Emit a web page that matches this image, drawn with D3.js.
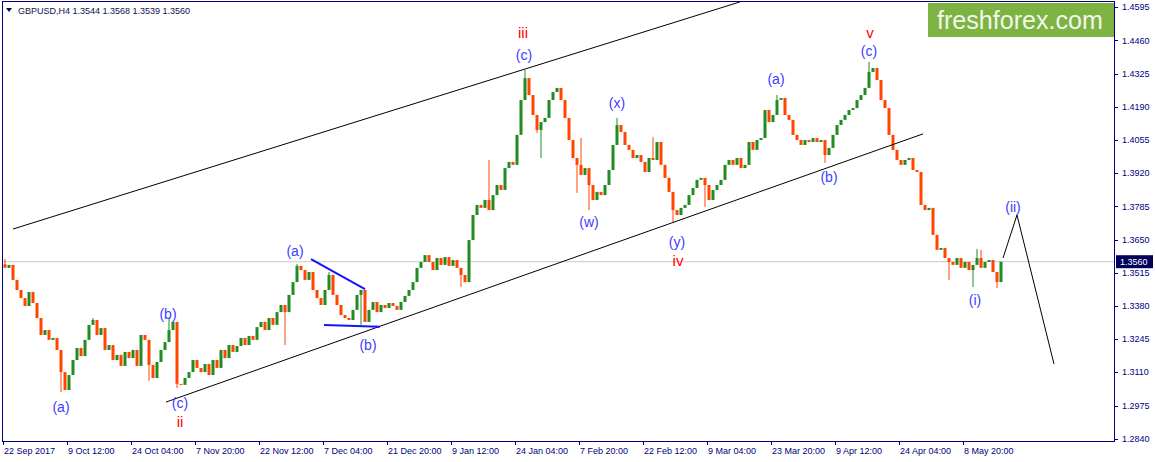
<html>
<head>
  <title>GBPUSD H4</title>
  <script src="https://d3js.org/d3.v7.min.js"></script>
  <style>
    body { margin: 0; background: #fff; }
    text { font-family: "Liberation Sans", Arial, sans-serif; }
  </style>
</head>
<body>
<svg id="chart" width="1155" height="462"></svg>
<script>
  // closes, one every ~4 px (open = previous close)
  const closes = [
    1.3535, 1.3547, 1.3486, 1.3445, 1.3412, 1.3380, 1.3437, 1.3392, 1.3331, 1.3262,
    1.3282, 1.3242, 1.3250, 1.3201, 1.3111, 1.3038, 1.3099, 1.3160, 1.3209, 1.3176,
    1.3242, 1.3303, 1.3323, 1.3262, 1.3290, 1.3201, 1.3221, 1.3160, 1.3181, 1.3136,
    1.3193, 1.3168, 1.3201, 1.3136, 1.3262, 1.3242, 1.3140, 1.3087, 1.3152, 1.3201,
    1.3233, 1.3282, 1.3315, 1.3063, 1.3059, 1.3087, 1.3111, 1.3160, 1.3128, 1.3111,
    1.3144, 1.3099, 1.3160, 1.3128, 1.3201, 1.3168, 1.3221, 1.3193, 1.3217, 1.3250,
    1.3221, 1.3258, 1.3242, 1.3294, 1.3315, 1.3282, 1.3331, 1.3303, 1.3355, 1.3384,
    1.3355, 1.3425, 1.3477, 1.3543, 1.3526, 1.3486, 1.3518, 1.3445, 1.3412, 1.3384,
    1.3445, 1.3506, 1.3425, 1.3384, 1.3343, 1.3331, 1.3323, 1.3364, 1.3425, 1.3445,
    1.3315, 1.3364, 1.3396, 1.3355, 1.3384, 1.3372, 1.3392, 1.3380, 1.3364, 1.3396,
    1.3421, 1.3445, 1.3477, 1.3535, 1.3559, 1.3587, 1.3559, 1.3526, 1.3575, 1.3547,
    1.3579, 1.3543, 1.3567, 1.3535, 1.3506, 1.3477, 1.3648, 1.3750, 1.3791, 1.3779,
    1.3811, 1.3770, 1.3831, 1.3872, 1.3852, 1.3941, 1.3966, 1.3954, 1.4076, 1.4218,
    1.4307, 1.4238, 1.4157, 1.4096, 1.4128, 1.4145, 1.4218, 1.4250, 1.4267, 1.4218,
    1.4145, 1.4055, 1.3982, 1.3954, 1.3913, 1.3941, 1.3872, 1.3811, 1.3844, 1.3831,
    1.3872, 1.3933, 1.4035, 1.4116, 1.4088, 1.4035, 1.4015, 1.3982, 1.3994, 1.3966,
    1.3925, 1.3982, 1.3974, 1.4047, 1.3954, 1.3901, 1.3844, 1.3770, 1.3750, 1.3779,
    1.3791, 1.3831, 1.3860, 1.3893, 1.3901, 1.3872, 1.3811, 1.3852, 1.3872, 1.3893,
    1.3954, 1.3974, 1.3954, 1.3982, 1.3941, 1.3954, 1.4047, 1.4015, 1.4055, 1.4063,
    1.4177, 1.4128, 1.4157, 1.4218, 1.4226, 1.4157, 1.4137, 1.4076, 1.4055, 1.4035,
    1.4055, 1.4047, 1.4063, 1.4047, 1.4055, 1.3994, 1.4023, 1.4076, 1.4116, 1.4137,
    1.4157, 1.4177, 1.4185, 1.4218, 1.4238, 1.4267, 1.4332, 1.4348, 1.4299, 1.4218,
    1.4185, 1.4076, 1.4015, 1.3974, 1.3954, 1.3974, 1.3982, 1.3933, 1.3925, 1.3791,
    1.3770, 1.3779, 1.3669, 1.3608, 1.3616, 1.3575, 1.3559, 1.3547, 1.3575, 1.3535,
    1.3559, 1.3526, 1.3547, 1.3575, 1.3535, 1.3559, 1.3567, 1.3518, 1.3477, 1.3560
  ];
  const firstOpen = 1.3550;
  const lastPrice = 1.3560;

  // the longer wicks that stick out of the bodies: [candle index, price]
  const wicks = [
    [0, 1.3571], [14, 1.3030], [22, 1.3331], [36, 1.3075], [41, 1.3331],
    [43, 1.3046], [70, 1.3221], [73, 1.3551], [81, 1.3518], [89, 1.3303],
    [114, 1.3457], [121, 1.3974], [130, 1.4340], [133, 1.4084], [134, 1.3982],
    [143, 1.3840], [144, 1.4063], [146, 1.3770], [153, 1.4145], [162, 1.4067],
    [167, 1.3718], [175, 1.3783], [193, 1.4238], [205, 1.3962], [216, 1.4373],
    [236, 1.3486], [242, 1.3457], [243, 1.3612], [244, 1.3608], [248, 1.3453]
  ];

  const priceTicks = [1.4595, 1.4460, 1.4325, 1.4190, 1.4055, 1.3920, 1.3785,
                      1.3650, 1.3515, 1.3380, 1.3245, 1.3110, 1.2975, 1.2840];
  const dateLabels = ["22 Sep 2017", "9 Oct 12:00", "24 Oct 04:00", "7 Nov 20:00",
                      "22 Nov 12:00", "7 Dec 04:00", "21 Dec 20:00", "9 Jan 12:00",
                      "24 Jan 04:00", "7 Feb 20:00", "22 Feb 12:00", "9 Mar 04:00",
                      "23 Mar 20:00", "9 Apr 12:00", "24 Apr 04:00", "8 May 20:00"];
  const dateIndex = [0, 16, 32, 48, 64, 80, 96, 112, 128, 144, 160, 176, 192, 208, 224, 240];

  // trend lines as [index, price] pairs
  const channelUpper = [[2.5, 1.3693], [184.25, 1.4617]];
  const channelLower = [[40.75, 1.2989], [230, 1.4080]];
  const triangleTop = [[77, 1.3571], [90.5, 1.3449]];
  const triangleBottom = [[80.25, 1.3303], [94.25, 1.3295]];
  const forecast = [[250, 1.3575], [253.5, 1.3750], [262.75, 1.3144]];

  // wave labels [text, index, price, kind]
  const waveLabels = [
    ["(a)", 14.5, 1.2969, "minor"], ["(b)", 41.25, 1.3347, "minor"],
    ["(c)", 44.25, 1.2985, "minor"], ["ii", 44.25, 1.2908, "major"],
    ["(a)", 73, 1.3604, "minor"], ["(b)", 91.25, 1.3221, "minor"],
    ["iii", 130, 1.4490, "major"], ["(c)", 130.25, 1.4401, "minor"],
    ["(w)", 146.5, 1.3722, "minor"], ["(x)", 153.5, 1.4206, "minor"],
    ["(y)", 168.5, 1.3640, "minor"], ["iv", 168.75, 1.3563, "major"],
    ["(a)", 193.25, 1.4303, "minor"], ["(b)", 206.5, 1.3905, "minor"],
    ["v", 216.75, 1.4490, "major"], ["(c)", 216.5, 1.4417, "minor"],
    ["(i)", 243, 1.3404, "minor"], ["(ii)", 252.5, 1.3783, "minor"]
  ];

  const plotL = 3, plotR = 1114, plotT = 2, plotB = 441;
  const svg = d3.select("#chart");

  const x = d3.scaleLinear().domain([0, 250]).range([3, 1003]);
  const y = d3.scaleLinear().domain([1.2840, 1.4595]).range([438.7, 7.3]);

  svg.append("clipPath").attr("id", "plot")
    .append("rect").attr("x", plotL).attr("y", plotT)
    .attr("width", plotR - plotL).attr("height", plotB - plotT);

  const plot = svg.append("g").attr("clip-path", "url(#plot)");

  // current price line
  plot.append("line")
    .attr("x1", plotL).attr("x2", plotR)
    .attr("y1", y(lastPrice)).attr("y2", y(lastPrice))
    .attr("stroke", "#c8c8c8").attr("stroke-width", 1);

  const candles = closes.map((c, i) => ({ i: i, o: i ? closes[i - 1] : firstOpen, c: c }));
  const colorOf = d => d.c >= d.o ? "#228b22" : "#ff4500";

  // wicks: from the body to the read extreme
  plot.selectAll("line.wick")
    .data(wicks)
    .join("line")
    .attr("class", "wick")
    .attr("x1", d => x(d[0]) + 2).attr("x2", d => x(d[0]) + 2)
    .attr("y1", d => {
      const c = candles[d[0]];
      return y(d[1] > c.c ? Math.max(c.o, c.c) : Math.min(c.o, c.c));
    })
    .attr("y2", d => y(d[1]))
    .attr("stroke", d => colorOf(candles[d[0]]))
    .attr("stroke-width", 1);

  plot.selectAll("rect.candle")
    .data(candles)
    .join("rect")
    .attr("class", "candle")
    .attr("x", d => x(d.i) + 0.5)
    .attr("width", 3)
    .attr("y", d => y(Math.max(d.o, d.c)))
    .attr("height", d => Math.max(1, Math.abs(y(d.o) - y(d.c))))
    .attr("fill", colorOf);

  const line = d3.line().x(d => x(d[0])).y(d => y(d[1]));
  [channelUpper, channelLower, forecast].forEach(pts => {
    plot.append("path").attr("d", line(pts))
      .attr("fill", "none").attr("stroke", "#000").attr("stroke-width", 1);
  });
  [triangleTop, triangleBottom].forEach(pts => {
    plot.append("path").attr("d", line(pts))
      .attr("fill", "none").attr("stroke", "#1414ff").attr("stroke-width", 2);
  });

  plot.selectAll("text.wave")
    .data(waveLabels)
    .join("text")
    .attr("class", "wave")
    .attr("x", d => x(d[1]))
    .attr("y", d => y(d[2]))
    .attr("dy", "0.35em")
    .attr("text-anchor", "middle")
    .attr("font-size", d => d[3] == "major" ? 15 : 14)
    .attr("fill", d => d[3] == "major" ? "#ff0000" : "#3c3cff")
    .text(d => d[0]);

  // logo
  svg.append("rect").attr("x", 928).attr("y", 3).attr("width", 186).attr("height", 34)
    .attr("fill", "#7cb342");
  svg.append("text").attr("x", 937).attr("y", 29)
    .attr("font-family", "'Open Sans', sans-serif")
    .attr("font-size", 25).attr("fill", "#f2f7ea")
    .attr("textLength", 166).attr("lengthAdjust", "spacingAndGlyphs")
    .text("freshforex.com");

  // frame
  svg.append("rect").attr("x", plotL - 0.5).attr("y", plotT - 0.5)
    .attr("width", plotR - plotL + 1).attr("height", plotB - plotT + 1)
    .attr("fill", "none").attr("stroke", "#000080").attr("stroke-width", 1);

  // price axis
  const yAxis = svg.append("g");
  yAxis.selectAll("line").data(priceTicks).join("line")
    .attr("x1", plotR).attr("x2", plotR + 4)
    .attr("y1", d => Math.round(y(d)) + 0.5).attr("y2", d => Math.round(y(d)) + 0.5)
    .attr("stroke", "#000080");
  yAxis.selectAll("text").data(priceTicks).join("text")
    .attr("x", 1122).attr("y", d => y(d)).attr("dy", "0.35em")
    .attr("font-size", 9).attr("fill", "#000080")
    .text(d => d.toFixed(4));

  svg.append("rect").attr("x", 1116).attr("y", y(lastPrice) - 6.5)
    .attr("width", 37).attr("height", 13).attr("fill", "#00005a");
  svg.append("text").attr("x", 1120).attr("y", y(lastPrice)).attr("dy", "0.35em")
    .attr("font-size", 9).attr("fill", "#fff").text(lastPrice.toFixed(4));

  // date axis
  const xAxis = svg.append("g");
  xAxis.selectAll("line").data(dateIndex).join("line")
    .attr("x1", d => Math.round(x(d)) + 0.5).attr("x2", d => Math.round(x(d)) + 0.5)
    .attr("y1", plotB).attr("y2", plotB + 4)
    .attr("stroke", "#000080");
  xAxis.selectAll("text").data(dateLabels).join("text")
    .attr("x", (d, i) => x(dateIndex[i]) + 1).attr("y", 454)
    .attr("font-size", 9).attr("fill", "#000080")
    .text(d => d);

  // title
  svg.append("path").attr("d", "M6,8 L12,8 L9,12 Z").attr("fill", "#000060");
  svg.append("text").attr("x", 18).attr("y", 14)
    .attr("font-size", 9).attr("fill", "#101050")
    .text("GBPUSD,H4  1.3544 1.3568 1.3539 1.3560");
</script>
</body>
</html>
